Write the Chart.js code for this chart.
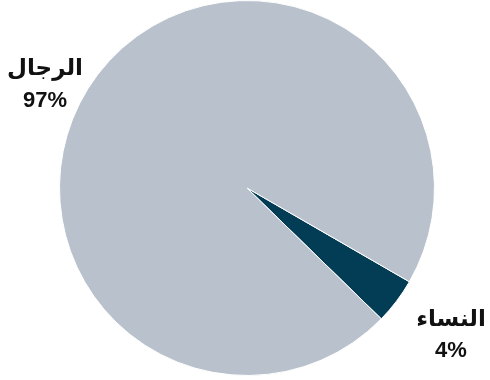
<!DOCTYPE html>
<html lang="ar">
<head>
  <meta charset="UTF-8">
  <title>الرجال والنساء</title>
  <script src="https://cdn.jsdelivr.net/npm/chart.js"></script>
  <style>
    html, body { margin: 0; padding: 0; background: white; }
    #chartContainer { width: 490px; height: 380px; }
  </style>
</head>
<body>
  <div id="chartContainer">
    <canvas id="chart"></canvas>
  </div>

  <script>
    const categories = ['النساء', 'الرجال'];
    const values = [4, 97];
    const valueLabels = ['4%', '97%'];
    const colors = ['#023d55', '#b9c2cc'];

    // label anchors (canvas px) for each slice: [x, arabic y, percent y]
    const labelSpots = [[451, 320, 351], [45, 69, 101]];

    const sliceLabels = {
      id: 'sliceLabels',
      afterDraw(chart) {
        const ctx = chart.ctx;
        ctx.save();
        ctx.fillStyle = '#111';
        ctx.textAlign = 'center';
        ctx.textBaseline = 'middle';
        categories.forEach((name, i) => {
          const [x, y1, y2] = labelSpots[i];
          ctx.font = 'bold 23px "DejaVu Sans", sans-serif';
          ctx.fillText(name, x, y1);
          ctx.font = 'bold 22px "Liberation Sans", sans-serif';
          ctx.fillText(valueLabels[i], x, y2);
        });
        ctx.restore();
      }
    };

    const ctx = document.getElementById('chart').getContext('2d');
    new Chart(ctx, {
      type: 'pie',
      data: {
        labels: categories,
        datasets: [{
          data: values,
          backgroundColor: colors,
          borderColor: '#ffffff',
          borderWidth: 1
        }]
      },
      options: {
        responsive: true,
        maintainAspectRatio: false,
        animation: false,
        rotation: 120,
        layout: { padding: { top: 0, bottom: 4, left: 4, right: 0 } },
        plugins: {
          legend: { display: false },
          tooltip: { enabled: false }
        }
      },
      plugins: [sliceLabels]
    });
  </script>
</body>
</html>
